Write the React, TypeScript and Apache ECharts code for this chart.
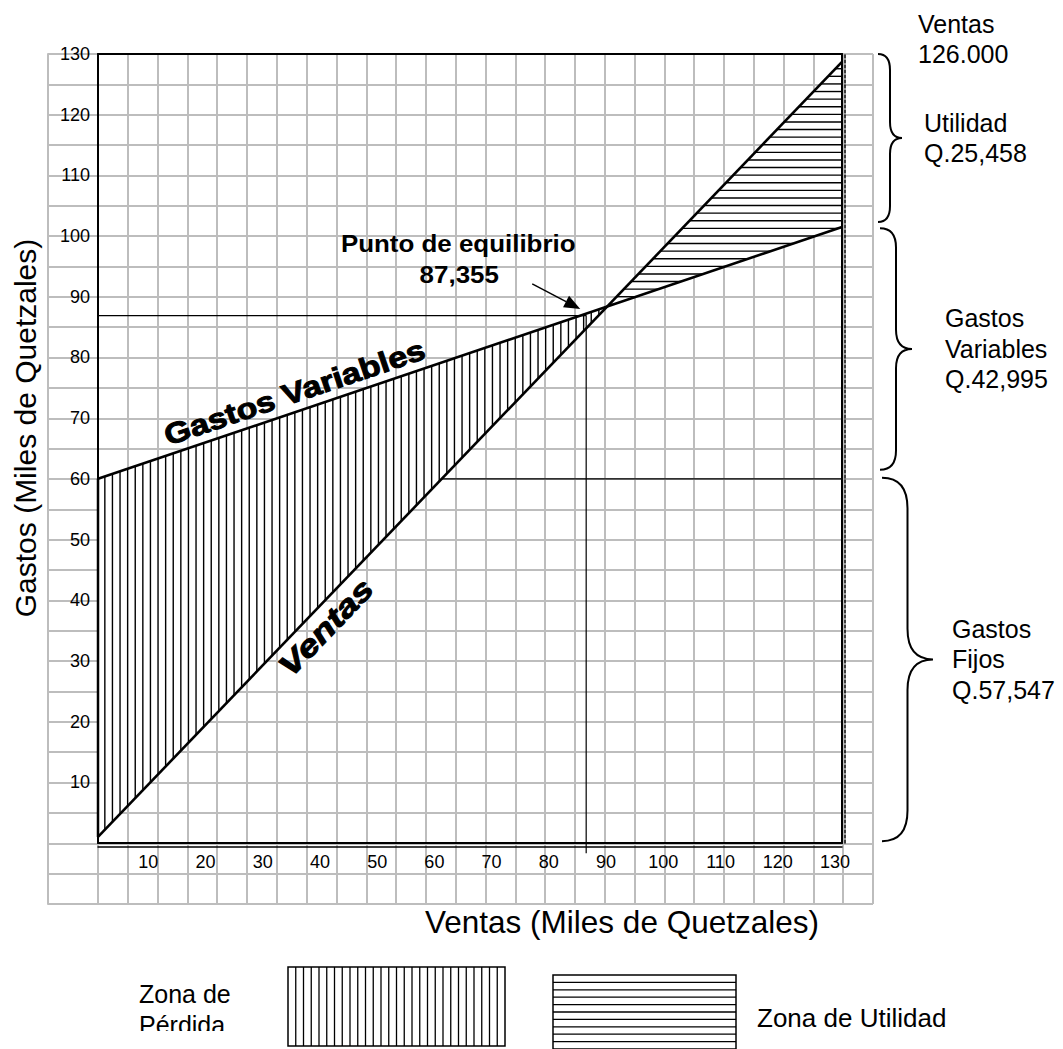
import React, { useEffect, useRef } from "react";
import * as echarts from "echarts";

// ---------------- data ----------------
const xTickMax = 130;
const yTickMax = 130;
const ventasLine: number[][] = [[0, 1.0], [130, 128.7]];
const gastosLine: number[][] = [[0, 60], [130, 101.5]];
const equilibrioGuide: number[][] = [[-1.7, 86.9], [85.3, 86.9], [85.3, -1.7]];
const fijosGuide: number[][] = [[60, 60], [130, 60]];
const equilibrioText = ["Punto de equilibrio", "87,355"];
const lineLabelNames = ["Gastos Variables", "Ventas"];
const lineLabelX = [35.4, 37.4];
const braceRanges: number[][] = [[130, 102.3], [101.3, 61.5], [60.2, 0.3]];
const braceLabels: string[][] = [
  ["Utilidad", "Q.25,458"],
  ["Gastos", "Variables", "Q.42,995"],
  ["Gastos", "Fijos", "Q.57,547"],
];
const ventasTotal = ["Ventas", "126.000"];
const legendNames: string[][] = [["Zona de", "Pérdida"], ["Zona de Utilidad"]];
const xTitle = "Ventas (Miles de Quetzales)";
const yTitle = "Gastos (Miles de Quetzales)";

// ---------------- style constants ----------------
const FONT = "'Liberation Sans', Arial, Helvetica, sans-serif";
const GRAY = "#bdbdbd";
const BLACK = "#000";

function crossing(a: number[][], b: number[][]) {
  const sa = (a[1][1] - a[0][1]) / (a[1][0] - a[0][0]);
  const sb = (b[1][1] - b[0][1]) / (b[1][0] - b[0][0]);
  const ia = a[0][1] - sa * a[0][0];
  const ib = b[0][1] - sb * b[0][0];
  const x = (ib - ia) / (sa - sb);
  return [x, ia + sa * x];
}
function lineAt(line: number[][], x: number) {
  const [[x0, y0], [x1, y1]] = line;
  return y0 + ((y1 - y0) * (x - x0)) / (x1 - x0);
}

// intersection interval of a convex polygon with scanline (axis 0: x=v, axis 1: y=v)
function span(poly: number[][], axis: number, v: number) {
  const o = 1 - axis;
  let lo = Infinity, hi = -Infinity;
  for (let i = 0; i < poly.length; i++) {
    const p = poly[i], q = poly[(i + 1) % poly.length];
    const a = p[axis], b = q[axis];
    if (a !== b && (v - a) * (v - b) <= 0) {
      const t = (v - a) / (b - a);
      const w = p[o] + t * (q[o] - p[o]);
      lo = Math.min(lo, w);
      hi = Math.max(hi, w);
    }
  }
  return lo < hi ? [lo, hi] : null;
}
function hatch(poly: number[][], axis: number, step: number, style: any) {
  const vals = poly.map((p) => p[axis]);
  const min = Math.min(...vals), max = Math.max(...vals);
  const out: any[] = [];
  for (let v = min + step * 0.9; v < max; v += step) {
    const s = span(poly, axis, v);
    if (!s) continue;
    const shape = axis === 0
      ? { x1: v, y1: s[0], x2: v, y2: s[1] }
      : { x1: s[0], y1: v, x2: s[1], y2: v };
    out.push({ type: "line", shape, style });
  }
  return out;
}
function bracePath(x0: number, yTop: number, yBot: number, w: number) {
  const xm = x0 + w / 2, xt = x0 + w, ym = (yTop + yBot) / 2;
  const r = Math.max(w * 0.6, 16);
  return `M${x0} ${yTop} Q${xm} ${yTop} ${xm} ${yTop + r} L${xm} ${ym - r} Q${xm} ${ym} ${xt} ${ym} ` +
    `Q${xm} ${ym} ${xm} ${ym + r} L${xm} ${yBot - r} Q${xm} ${yBot} ${x0} ${yBot}`;
}
function txt(text: string, x: number, y: number, size: number, extra: any = {}, styleExtra: any = {}) {
  return {
    type: "text", x, y, ...extra,
    style: {
      text, fill: BLACK, fontSize: size, fontFamily: FONT,
      align: "left", textAlign: "left", verticalAlign: "middle", textVerticalAlign: "middle",
      ...styleExtra,
    },
  };
}
function legendRect(x: number, y: number, w: number, h: number, vertical: boolean, step: number) {
  const els: any[] = [{ type: "rect", shape: { x, y, width: w, height: h }, style: { fill: "#fff", stroke: BLACK, lineWidth: 1.5 } }];
  const st = { stroke: BLACK, lineWidth: 1.3 };
  if (vertical) {
    for (let p = x + step; p < x + w - 2; p += step) els.push({ type: "line", shape: { x1: p, y1: y, x2: p, y2: y + h }, style: st });
  } else {
    for (let p = y + step; p < y + h - 2; p += step) els.push({ type: "line", shape: { x1: x, y1: p, x2: x + w, y2: p }, style: st });
  }
  return els;
}

function buildOption() {
  const be = crossing(ventasLine, gastosLine);
  const frameLine = { show: true, onZero: false, lineStyle: { color: BLACK, width: 2 } };
  const noTick = { show: false };
  const noLabel = { show: false };
  const noSplit = { show: false };

  const graphicEls: any[] = [
    txt(yTitle, 25, 428, 30, { rotation: Math.PI / 2 }, { align: "center", textAlign: "center" }),
    txt(xTitle, 622, 922, 31.5, {}, { align: "center", textAlign: "center" }),
    txt(ventasTotal[0], 918, 24, 25),
    txt(ventasTotal[1], 918, 54, 25),
    ...legendRect(288, 967, 217, 79, true, 7.75),
    ...legendRect(553, 975, 183, 74, false, 7.4),
    txt(legendNames[0][0], 139, 994, 25),
    txt(legendNames[0][1], 139, 1025, 25),
    { type: "rect", z: 10, shape: { x: 130, y: 1031, width: 125, height: 20 }, style: { fill: "#fff" } },
    txt(legendNames[1][0], 757, 1018, 26),
  ];

  return {
    animation: false,
    backgroundColor: "#fff",
    grid: [
      { left: 98, top: 54, width: 744, height: 789 },
      { left: 98, top: 54, width: 775, height: 850 },
      { left: 48, top: 54, width: 825, height: 850 },
    ],
    xAxis: [
      {
        gridIndex: 0, type: "value", min: 0, max: xTickMax, interval: 10, position: "bottom", z: 3,
        axisLine: frameLine, axisTick: noTick, splitLine: noSplit,
        axisLabel: { showMinLabel: false, fontSize: 18, color: BLACK, fontFamily: FONT, margin: 10, padding: [0, 14, 0, 0] },
      },
      {
        gridIndex: 0, type: "value", min: 0, max: xTickMax, position: "bottom", offset: 4, z: 3,
        axisLine: { show: true, onZero: false, lineStyle: { color: BLACK, width: 1.5 } },
        axisTick: noTick, axisLabel: noLabel, splitLine: noSplit,
      },
      {
        gridIndex: 0, type: "value", min: 0, max: xTickMax, position: "top", z: 3,
        axisLine: frameLine, axisTick: noTick, axisLabel: noLabel, splitLine: noSplit,
      },
      {
        gridIndex: 1, type: "value", min: 0, max: 26, interval: 1, z: 0,
        axisLine: { show: false }, axisTick: noTick, axisLabel: noLabel,
        splitLine: { show: true, lineStyle: { color: GRAY, width: 2 } },
      },
      { gridIndex: 2, type: "value", min: 0, max: 1, show: false },
    ],
    yAxis: [
      {
        gridIndex: 0, type: "value", min: 0, max: yTickMax, interval: 10, z: 3,
        axisLine: frameLine, axisTick: noTick, splitLine: noSplit,
        axisLabel: { showMinLabel: false, fontSize: 18, color: BLACK, fontFamily: FONT, margin: 8 },
      },
      {
        gridIndex: 0, type: "value", min: 0, max: yTickMax, position: "right", z: 3,
        axisLine: frameLine, axisTick: noTick, axisLabel: noLabel, splitLine: noSplit,
      },
      {
        gridIndex: 0, type: "value", min: 0, max: yTickMax, position: "right", offset: 3, z: 3,
        axisLine: { show: true, onZero: false, lineStyle: { color: BLACK, width: 1.5, type: [3, 2] } },
        axisTick: noTick, axisLabel: noLabel, splitLine: noSplit,
      },
      { gridIndex: 1, type: "value", min: 0, max: 1, show: false },
      {
        gridIndex: 2, type: "value", min: -10, max: 130, interval: 5, z: 0,
        axisLine: { show: true, onZero: false, lineStyle: { color: GRAY, width: 2 } },
        axisTick: noTick, axisLabel: noLabel,
        splitLine: { show: true, lineStyle: { color: GRAY, width: 2 } },
      },
    ],
    series: [
      {
        type: "custom", name: "Zonas", xAxisIndex: 0, yAxisIndex: 0, z: 2, silent: true,
        data: [[0, 0]],
        renderItem: (_p: any, api: any) => {
          const g0 = api.coord(gastosLine[0]), g1 = api.coord(gastosLine[1]);
          const v0 = api.coord(ventasLine[0]), v1 = api.coord(ventasLine[1]);
          const b = api.coord(be);
          const loss = [g0, b, v0];
          const gain = [b, v1, g1];
          const hs = { stroke: BLACK, lineWidth: 1.4 };
          return {
            type: "group",
            children: [
              { type: "polygon", shape: { points: loss }, style: { fill: "#fff" } },
              { type: "polygon", shape: { points: gain }, style: { fill: "#fff" } },
              ...hatch(loss, 0, 7.6, hs),
              ...hatch(gain, 1, 7.6, hs),
              { type: "line", shape: { x1: g0[0], y1: g0[1], x2: v0[0], y2: v0[1] }, style: { stroke: BLACK, lineWidth: 2.5 } },
            ],
          };
        },
      },
      {
        type: "line", name: "Ventas", data: ventasLine, xAxisIndex: 0, yAxisIndex: 0, z: 3,
        symbol: "none", lineStyle: { color: BLACK, width: 2.6 }, silent: true,
      },
      {
        type: "line", name: "Gastos Variables", data: gastosLine, xAxisIndex: 0, yAxisIndex: 0, z: 3,
        symbol: "none", lineStyle: { color: BLACK, width: 2.6 }, silent: true,
      },
      {
        type: "line", name: "Equilibrio", data: equilibrioGuide, xAxisIndex: 0, yAxisIndex: 0, z: 3,
        symbol: "none", clip: false, lineStyle: { color: BLACK, width: 1.2 }, silent: true,
      },
      {
        type: "line", name: "Fijos", data: fijosGuide, xAxisIndex: 0, yAxisIndex: 0, z: 3,
        symbol: "none", clip: false, lineStyle: { color: BLACK, width: 1.2 }, silent: true,
      },
      {
        type: "custom", name: "Anotaciones", xAxisIndex: 0, yAxisIndex: 0, z: 4, silent: true,
        data: [[0, 0]],
        renderItem: (_p: any, api: any) => {
          const children: any[] = [];
          // line labels
          const lines = [gastosLine, ventasLine];
          lines.forEach((ln, i) => {
            const p0 = api.coord(ln[0]), p1 = api.coord(ln[1]);
            const a = Math.atan2(-(p1[1] - p0[1]), p1[0] - p0[0]);
            const anchor = api.coord([lineLabelX[i], lineAt(ln, lineLabelX[i])]);
            const off = 19;
            const sign = i === 0 ? -1 : 1; // gastos label above, ventas label below
            const cx = anchor[0] + sign * off * Math.sin(a);
            const cy = anchor[1] + sign * off * Math.cos(a);
            const isV = i === 1;
            children.push(txt(lineLabelNames[i], cx, cy, isV ? 30 : 29,
              { rotation: a, scaleX: isV ? 1.25 : 1.17 },
              {
                align: "center", textAlign: "center", fontWeight: "bold",
                fontStyle: isV ? "italic" : "normal", stroke: BLACK, lineWidth: 1,
              }));
          });
          // break-even annotation
          const b = api.coord(crossing(ventasLine, gastosLine));
          children.push(txt(equilibrioText[0], b[0] - 149, b[1] - 63, 24, { scaleX: 1.08 },
            { align: "center", textAlign: "center", fontWeight: "bold" }));
          children.push(txt(equilibrioText[1], b[0] - 148, b[1] - 32, 24, { scaleX: 1.08 },
            { align: "center", textAlign: "center", fontWeight: "bold" }));
          const s = [b[0] - 75, b[1] - 22.5], t = [b[0] - 27, b[1] + 2.5];
          const len = Math.hypot(t[0] - s[0], t[1] - s[1]);
          const ux = (t[0] - s[0]) / len, uy = (t[1] - s[1]) / len;
          const hb = [t[0] - ux * 16, t[1] - uy * 16];
          children.push({ type: "line", shape: { x1: s[0], y1: s[1], x2: hb[0], y2: hb[1] }, style: { stroke: BLACK, lineWidth: 1.5 } });
          children.push({
            type: "polygon",
            shape: { points: [t, [hb[0] - uy * 6.5, hb[1] + ux * 6.5], [hb[0] + uy * 6.5, hb[1] - ux * 6.5]] },
            style: { fill: BLACK },
          });
          // braces on the right
          const right = api.coord([xTickMax, 0])[0];
          const braceOff = [36, 38, 40];
          const braceW = [24, 32, 51];
          const textOff = [82, 103, 110];
          braceRanges.forEach((r, i) => {
            const yTop = api.coord([xTickMax, r[0]])[1];
            const yBot = api.coord([xTickMax, r[1]])[1];
            children.push({
              type: "path", shape: { pathData: bracePath(right + braceOff[i], yTop, yBot, braceW[i]) },
              style: { fill: "none", stroke: BLACK, lineWidth: 2 },
            });
            const mid = (yTop + yBot) / 2;
            const n = braceLabels[i].length;
            braceLabels[i].forEach((lab, k) => {
              children.push(txt(lab, right + textOff[i], mid + (k - (n - 1) / 2) * 30.5, 25));
            });
          });
          return { type: "group", children };
        },
      },
    ],
    graphic: { elements: graphicEls },
  };
}

export default function App() {
  const ref = useRef<HTMLDivElement>(null);
  useEffect(() => {
    const chart = echarts.init(ref.current as HTMLDivElement, null, { renderer: "svg", width: 1063, height: 1049 });
    chart.setOption(buildOption() as any);
    return () => chart.dispose();
  }, []);
  return (
    <div
      ref={ref}
      style={{ position: "fixed", left: 0, top: 0, width: 1063, height: 1049, background: "#fff" }}
    />
  );
}
